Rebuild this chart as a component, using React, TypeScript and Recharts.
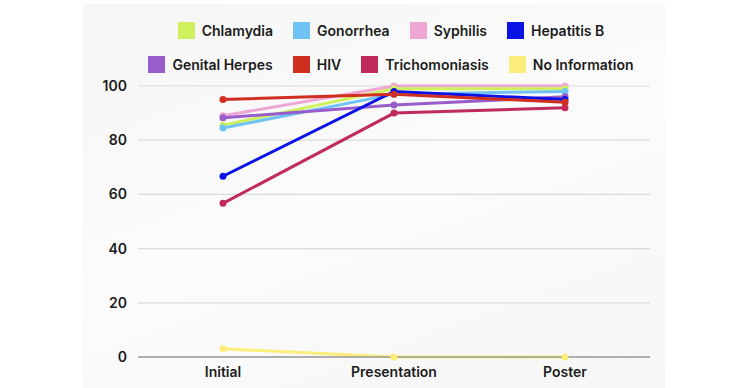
import React from "react";
import {
  LineChart,
  Line,
  XAxis,
  YAxis,
  CartesianGrid,
  Legend,
} from "recharts";

const stages = ["Initial", "Presentation", "Poster"];

const chlamydia = [85.5, 99, 99];
const gonorrhea = [84.5, 97, 98];
const syphilis = [89, 100, 100];
const hepatitisB = [66.7, 98, 95];
const genitalHerpes = [88.3, 93, 96];
const hiv = [95, 97, 94];
const trichomoniasis = [56.7, 90, 92];
const noInformation = [3, 0, 0];

const yTicks = [0, 20, 40, 60, 80, 100];

const series = [
  { key: "Chlamydia", values: chlamydia, color: "#cdf05c" },
  { key: "Gonorrhea", values: gonorrhea, color: "#6fc3f4" },
  { key: "Syphilis", values: syphilis, color: "#eea6d3" },
  { key: "Hepatitis B", values: hepatitisB, color: "#0b12e6" },
  { key: "Genital Herpes", values: genitalHerpes, color: "#995dcb" },
  { key: "HIV", values: hiv, color: "#d12e22" },
  { key: "Trichomoniasis", values: trichomoniasis, color: "#c02a5d" },
  { key: "No Information", values: noInformation, color: "#fbee7a" },
];

// draw order: back to front, so pink/lime sit under the others at the top
const drawOrder = [
  "No Information",
  "Syphilis",
  "Chlamydia",
  "Gonorrhea",
  "Genital Herpes",
  "Hepatitis B",
  "Trichomoniasis",
  "HIV",
];

const data = stages.map((stage, i) => {
  const row: Record<string, string | number> = { stage };
  series.forEach((s) => {
    row[s.key] = s.values[i];
  });
  return row;
});

const font = "Inter, 'DejaVu Sans', sans-serif";

const LegendItem = ({ name, color }: { name: string; color: string }) => (
  <div style={{ display: "flex", alignItems: "center", marginRight: 20 }}>
    <span
      style={{
        width: 17,
        height: 17,
        background: color,
        display: "inline-block",
        marginRight: 7,
      }}
    />
    <span style={{ fontSize: 14, fontWeight: 600, color: "#1c1c1c" }}>{name}</span>
  </div>
);

const TwoRowLegend = () => {
  const rows = [series.slice(0, 4), series.slice(4)];
  return (
    <div style={{ width: 750, height: 70, paddingLeft: 52, boxSizing: "border-box", fontFamily: font }}>
      {rows.map((row, r) => (
        <div
          key={r}
          style={{
            display: "flex",
            justifyContent: "center",
            alignItems: "center",
            height: 28,
            marginTop: r === 0 ? 0 : 6,
          }}
        >
          {row.map((s) => (
            <LegendItem key={s.key} name={s.key} color={s.color} />
          ))}
        </div>
      ))}
    </div>
  );
};

export default function App() {
  const tickStyle = { fill: "#1c1c1c", fontSize: 14, fontWeight: 600, fontFamily: font };
  return (
    <div
      style={{
        position: "absolute",
        top: 0,
        left: 0,
        width: 750,
        height: 388,
        background: "#ffffff",
        overflow: "hidden",
      }}
    >
      <div
        style={{
          position: "absolute",
          left: 83,
          top: 4,
          width: 582,
          height: 384,
          background: "linear-gradient(160deg, #f6f6f6 0%, #fbfbfb 50%, #f6f6f6 100%)",
        }}
      />
      <div style={{ position: "absolute", top: 0, left: 0 }}>
        <LineChart
          width={750}
          height={388}
          data={data}
          margin={{ top: 16, right: 100, bottom: 0, left: 0 }}
        >
          <Legend verticalAlign="top" height={70} content={() => <TwoRowLegend />} />
          <CartesianGrid stroke="#dcdcdc" strokeWidth={1.2} vertical={false} />
          <XAxis
            dataKey="stage"
            height={31}
            padding={{ left: 85, right: 85 }}
            tickLine={false}
            axisLine={{ stroke: "#9a9a9a", strokeWidth: 1.5 }}
            tick={tickStyle}
            tickMargin={4}
          />
          <YAxis
            width={138}
            domain={[0, 100]}
            ticks={yTicks}
            tickLine={false}
            axisLine={false}
            tick={tickStyle}
            tickMargin={5}
          />
          {drawOrder.map((name) => {
            const s = series.find((x) => x.key === name)!;
            return (
              <Line
                key={s.key}
                type="linear"
                dataKey={s.key}
                stroke={s.color}
                strokeWidth={3}
                dot={{ r: 3.5, fill: s.color, stroke: s.color, strokeWidth: 0 }}
                activeDot={false}
                isAnimationActive={false}
              />
            );
          })}
        </LineChart>
      </div>
    </div>
  );
}
